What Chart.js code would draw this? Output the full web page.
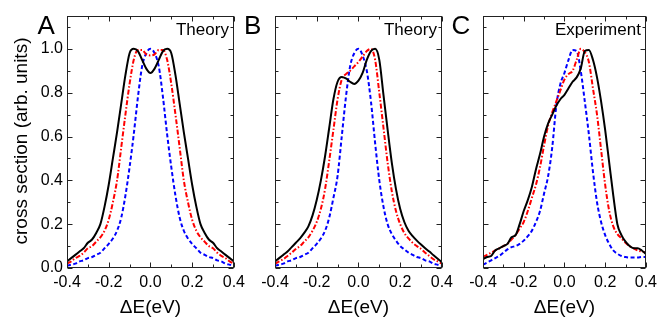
<!DOCTYPE html>
<html>
<head>
<meta charset="utf-8">
<script src="https://cdn.jsdelivr.net/npm/chart.js@4.4.1/dist/chart.umd.min.js"></script>
<style>
  html, body { margin: 0; padding: 0; background: #fff; }
  #wrap { position: relative; width: 662px; height: 320px; overflow: hidden; }
  canvas { position: absolute; top: 0; }
</style>
</head>
<body>
<div id="wrap">
  <canvas id="panelA" width="250" height="320" style="left:0px"></canvas>
  <canvas id="panelB" width="218" height="320" style="left:240px"></canvas>
  <canvas id="panelC" width="212" height="320" style="left:450px"></canvas>
</div>
<script>
// energy grid (eV), shared by all curves
const energy = [-0.40,-0.38,-0.36,-0.34,-0.32,-0.30,-0.28,-0.26,-0.24,-0.22,-0.20,-0.18,-0.16,-0.14,-0.12,-0.10,-0.08,-0.06,-0.04,-0.02,
                 0.00, 0.02, 0.04, 0.06, 0.08, 0.10, 0.12, 0.14, 0.16, 0.18, 0.20, 0.22, 0.24, 0.26, 0.28, 0.30, 0.32, 0.34, 0.36, 0.38, 0.40];

const xTicks = [-0.4, -0.2, 0, 0.2, 0.4];
const yTicks = [0, 0.2, 0.4, 0.6, 0.8, 1.0];
const xMarks = [-0.4, -0.3, -0.2, -0.1, 0, 0.1, 0.2, 0.3, 0.4];
const yMarks = [0, 0.1, 0.2, 0.3, 0.4, 0.5, 0.6, 0.7, 0.8, 0.9, 1.0, 1.1];

// panel A (theory)
const blackA = [0.03,0.045,0.06,0.075,0.09,0.115,0.13,0.16,0.20,0.28,0.38,0.50,0.62,0.75,0.88,0.98,1.0,0.99,0.95,0.91,
                0.89,0.91,0.95,0.99,1.0,0.98,0.88,0.75,0.62,0.50,0.38,0.28,0.20,0.16,0.13,0.115,0.09,0.075,0.06,0.045,0.03];
const redA   = [0.02,0.03,0.045,0.055,0.07,0.09,0.10,0.12,0.14,0.17,0.22,0.30,0.40,0.55,0.70,0.84,0.95,0.995,0.995,0.975,
                0.97,0.975,0.995,0.995,0.95,0.84,0.70,0.55,0.40,0.30,0.22,0.17,0.14,0.12,0.10,0.09,0.07,0.055,0.045,0.03,0.02];
const blueA  = [0.01,0.015,0.02,0.03,0.035,0.045,0.05,0.06,0.07,0.09,0.11,0.135,0.17,0.23,0.33,0.46,0.61,0.78,0.92,0.98,
                1.0,0.98,0.92,0.78,0.61,0.46,0.33,0.23,0.17,0.135,0.11,0.09,0.07,0.06,0.05,0.045,0.035,0.03,0.02,0.015,0.01];

// panel B (theory)
const blackB = [0.03,0.045,0.06,0.075,0.095,0.115,0.135,0.16,0.19,0.24,0.31,0.40,0.51,0.64,0.77,0.85,0.872,0.865,0.85,0.84,
                0.855,0.89,0.95,0.99,1.0,0.95,0.79,0.63,0.48,0.36,0.27,0.21,0.17,0.145,0.125,0.107,0.09,0.075,0.058,0.042,0.027];
const redB   = [0.02,0.03,0.04,0.055,0.07,0.087,0.10,0.12,0.14,0.17,0.21,0.27,0.36,0.49,0.63,0.77,0.86,0.885,0.90,0.92,
                0.94,0.965,0.99,1.0,0.95,0.80,0.64,0.48,0.35,0.26,0.20,0.16,0.135,0.115,0.10,0.087,0.07,0.055,0.04,0.03,0.02];
const blueB  = [0.01,0.015,0.02,0.03,0.035,0.045,0.05,0.06,0.07,0.09,0.11,0.135,0.17,0.23,0.32,0.42,0.60,0.78,0.92,0.98,
                1.0,0.97,0.90,0.76,0.57,0.40,0.28,0.20,0.155,0.125,0.10,0.085,0.07,0.06,0.05,0.045,0.035,0.03,0.02,0.015,0.01];

// panel C (experiment)
const blackC = [0.04,0.05,0.055,0.08,0.09,0.10,0.11,0.14,0.15,0.20,0.26,0.31,0.37,0.45,0.52,0.60,0.66,0.70,0.74,0.77,
                0.79,0.82,0.85,0.87,0.91,0.99,0.995,0.95,0.87,0.76,0.63,0.48,0.33,0.20,0.15,0.12,0.10,0.09,0.09,0.08,0.065];
const redC   = [0.05,0.06,0.07,0.08,0.09,0.10,0.11,0.13,0.15,0.18,0.21,0.26,0.32,0.38,0.46,0.56,0.65,0.71,0.76,0.81,
                0.86,0.885,0.90,0.95,1.0,0.985,0.94,0.82,0.70,0.54,0.38,0.26,0.19,0.155,0.135,0.115,0.10,0.09,0.08,0.075,0.07];
const blueC  = [0.015,0.025,0.035,0.045,0.055,0.07,0.085,0.095,0.10,0.11,0.125,0.145,0.17,0.21,0.26,0.34,0.42,0.55,0.74,0.84,
                0.89,0.95,0.995,0.99,0.90,0.76,0.61,0.44,0.30,0.21,0.15,0.11,0.08,0.065,0.055,0.05,0.048,0.048,0.048,0.05,0.05];

const FONT = "'Liberation Sans', Arial, sans-serif";
Chart.defaults.font.family = FONT;
Chart.defaults.color = "#000";

// frame, inward ticks (major + minor) and panel texts
const decor = {
    id: "decor",
    afterDraw(chart, args, o) {
        const { ctx, chartArea: a, scales } = chart;
        const L = Math.round(a.left) + 0.5, R = Math.round(a.right) - 0.5;
        const T = Math.round(a.top) + 0.5, B = Math.round(a.bottom) - 0.5;
        const isMajor = (list, v) => list.some(t => Math.abs(t - v) < 1e-6);
        ctx.save();
        ctx.strokeStyle = "#222";
        ctx.lineWidth = 1;
        ctx.strokeRect(L, T, R - L, B - T);
        ctx.beginPath();
        xMarks.forEach(v => {
            const px = Math.round(scales.x.getPixelForValue(v)) + 0.5;
            const len = isMajor(xTicks, v) ? 5 : 3;
            ctx.moveTo(px, B); ctx.lineTo(px, B - len);
            ctx.moveTo(px, T); ctx.lineTo(px, T + len);
        });
        yMarks.forEach(v => {
            const py = Math.round(scales.y.getPixelForValue(v)) + 0.5;
            const len = isMajor(yTicks, v) ? 5 : 3;
            ctx.moveTo(L, py); ctx.lineTo(L + len, py);
            ctx.moveTo(R, py); ctx.lineTo(R - len, py);
        });
        ctx.stroke();

        ctx.fillStyle = "#000";
        ctx.font = "26px " + FONT;
        ctx.textAlign = "left";
        ctx.textBaseline = "alphabetic";
        ctx.fillText(o.letter, o.letterX, 33.5);

        ctx.font = "17px " + FONT;
        ctx.textAlign = "right";
        ctx.fillText(o.tag, a.right - 5, a.top + 19);

        ctx.font = "19px " + FONT;
        ctx.textAlign = "center";
        ctx.textBaseline = "middle";
        ctx.fillText("\u0394E(eV)", (a.left + a.right) / 2, 308);
        if (o.yTitle) {
            ctx.translate(22, 141);
            ctx.rotate(-Math.PI / 2);
            ctx.fillText(o.yTitle, 0, 0);
        }
        ctx.restore();
    }
};

function toPoints(values) {
    return values.map((v, i) => ({ x: energy[i], y: v }));
}

function makePanel(id, cfg) {
    new Chart(document.getElementById(id), {
        type: "line",
        data: {
            datasets: [
                { label: "solid", data: toPoints(cfg.black), borderColor: "#000", borderWidth: 2 },
                { label: "dash-dot", data: toPoints(cfg.red), borderColor: "#ff0000", borderWidth: 2, borderDash: [5, 2, 1.5, 2] },
                { label: "dash", data: toPoints(cfg.blue), borderColor: "#0000ff", borderWidth: 2, borderDash: [4, 2.5] }
            ]
        },
        options: {
            responsive: false,
            animation: false,
            devicePixelRatio: 1,
            elements: {
                point: { radius: 0 },
                line: { cubicInterpolationMode: "monotone", fill: false }
            },
            layout: { padding: { left: 0, right: cfg.padRight, top: 16, bottom: 0 } },
            plugins: {
                legend: { display: false },
                tooltip: { enabled: false },
                decor: { letter: cfg.letter, letterX: cfg.letterX, tag: cfg.tag, yTitle: cfg.yTitle }
            },
            scales: {
                x: {
                    type: "linear",
                    min: -0.4,
                    max: 0.4,
                    afterBuildTicks: s => { s.ticks = xTicks.map(v => ({ value: v })); },
                    afterFit: s => { s.height = 52; },
                    ticks: {
                        font: { size: 16 },
                        padding: 5,
                        maxRotation: 0,
                        callback: v => Number(v).toFixed(1)
                    },
                    grid: { display: false, drawTicks: false },
                    border: { display: false }
                },
                y: {
                    min: 0,
                    max: 1.15,
                    afterBuildTicks: s => { s.ticks = yTicks.map(v => ({ value: v })); },
                    afterFit: s => { s.width = cfg.yWidth; },
                    ticks: {
                        display: cfg.showY,
                        font: { size: 16 },
                        padding: 4,
                        callback: v => Number(v).toFixed(1)
                    },
                    grid: { display: false, drawTicks: false },
                    border: { display: false }
                }
            }
        },
        plugins: [decor]
    });
}

makePanel("panelA", { black: blackA, red: redA, blue: blueA, letter: "A", letterX: 37.5, tag: "Theory",
    yTitle: "cross section (arb. units)", yWidth: 67, padRight: 15, showY: true });
makePanel("panelB", { black: blackB, red: redB, blue: blueB, letter: "B", letterX: 4, tag: "Theory",
    yTitle: null, yWidth: 35, padRight: 16, showY: false });
makePanel("panelC", { black: blackC, red: redC, blue: blueC, letter: "C", letterX: 1.5, tag: "Experiment",
    yTitle: null, yWidth: 33, padRight: 12, showY: false });
</script>
</body>
</html>
